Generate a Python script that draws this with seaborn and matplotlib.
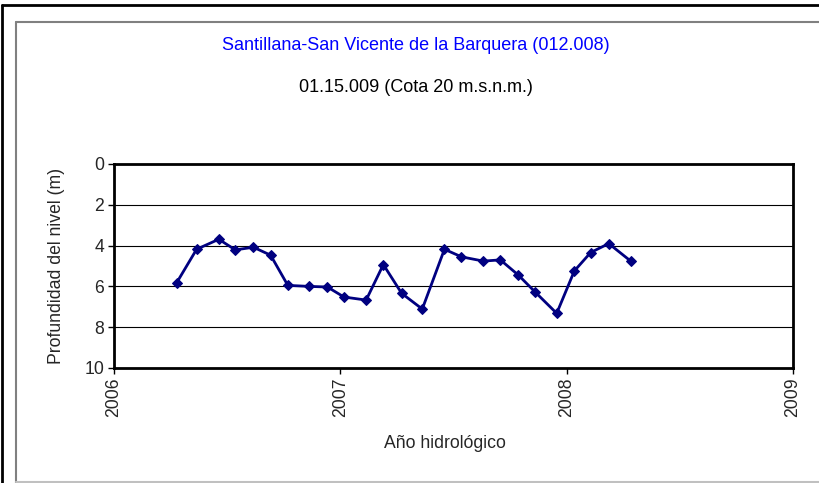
import matplotlib
matplotlib.use("Agg")
import matplotlib.pyplot as plt
import seaborn as sns
import pandas as pd
from matplotlib.lines import Line2D

# Data (decimal year, depth in m)
anio = [2006.277, 2006.365, 2006.463, 2006.536, 2006.616, 2006.692, 2006.768,
        2006.863, 2006.943, 2007.016, 2007.114, 2007.190, 2007.271, 2007.362,
        2007.460, 2007.535, 2007.632, 2007.707, 2007.787, 2007.862, 2007.956,
        2008.034, 2008.106, 2008.186, 2008.283]
profundidad = [5.82, 4.18, 3.69, 4.21, 4.08, 4.47, 5.95, 6.00, 6.03, 6.52,
               6.67, 4.93, 6.34, 7.11, 4.18, 4.55, 4.76, 4.70, 5.45, 6.29,
               7.32, 5.24, 4.34, 3.90, 4.76]
x_ticks = [2006, 2007, 2008, 2009]
y_ticks = [0, 2, 4, 6, 8, 10]

titulo = "Santillana-San Vicente de la Barquera (012.008)"
subtitulo = "01.15.009 (Cota 20 m.s.n.m.)"

df = pd.DataFrame({"Anio": anio, "Profundidad": profundidad})

sns.set_style("white")
plt.rcParams['font.family'] = ['Liberation Sans', 'DejaVu Sans']

W, H = 820, 483
fig = plt.figure(figsize=(W / 100, H / 100), dpi=100)
ax = fig.add_axes([114 / W, 1 - 368 / H, (793 - 114) / W, (368 - 164) / H])

sns.lineplot(
    data=df,
    x="Anio",
    y="Profundidad",
    ax=ax,
    color="#000080",
    linewidth=2,
    marker="D",
    markersize=5,
    markeredgecolor="#000080",
    zorder=3
)

ax.set_xlim(2006, 2009)
ax.set_ylim(10, 0)
ax.set_xticks(x_ticks)
ax.set_xticklabels([str(t) for t in x_ticks], rotation=90, fontsize=12.7)
ax.set_yticks(y_ticks)
ax.set_yticklabels([str(t) for t in y_ticks], fontsize=12.7)
ax.tick_params(direction="out", length=4, width=1, color="black", pad=3,
               bottom=True, left=True)

ax.grid(axis="y", color="black", linewidth=0.8)
ax.grid(axis="x", visible=False)
for side in ax.spines.values():
    side.set_visible(True)
    side.set_color("black")
    side.set_linewidth(2)

ax.set_xlabel("Año hidrológico", fontsize=12.7)
ax.xaxis.set_label_coords((445 - 114) / 679, -(443 - 368) / 204, transform=ax.transAxes)
ax.xaxis.label.set_va("center")
ax.set_ylabel("Profundidad del nivel (m)", fontsize=12.7, labelpad=14)

fig.text(416 / W, 1 - 45 / H, titulo, color="#0000FF", fontsize=13,
         ha="center", va="center")
fig.text(416 / W, 1 - 88 / H, subtitulo, color="black", fontsize=13,
         ha="center", va="center")

# outer and inner frames
fig.add_artist(Line2D([2 / W, 2 / W], [0, 1 - 5 / H], transform=fig.transFigure,
                      color="black", linewidth=2))
fig.add_artist(Line2D([2 / W, 1], [1 - 5 / H, 1 - 5 / H], transform=fig.transFigure,
                      color="black", linewidth=2))
fig.add_artist(Line2D([16 / W, 16 / W], [0.5 / H, 1 - 22 / H], transform=fig.transFigure,
                      color="#808080", linewidth=1.5))
fig.add_artist(Line2D([16 / W, 1], [1 - 22 / H, 1 - 22 / H], transform=fig.transFigure,
                      color="#808080", linewidth=1.5))
fig.add_artist(Line2D([16 / W, 1], [1 / H, 1 / H], transform=fig.transFigure,
                      color="#C0C0C0", linewidth=1.5))

fig.savefig("out.png", dpi=100)
plt.close()
